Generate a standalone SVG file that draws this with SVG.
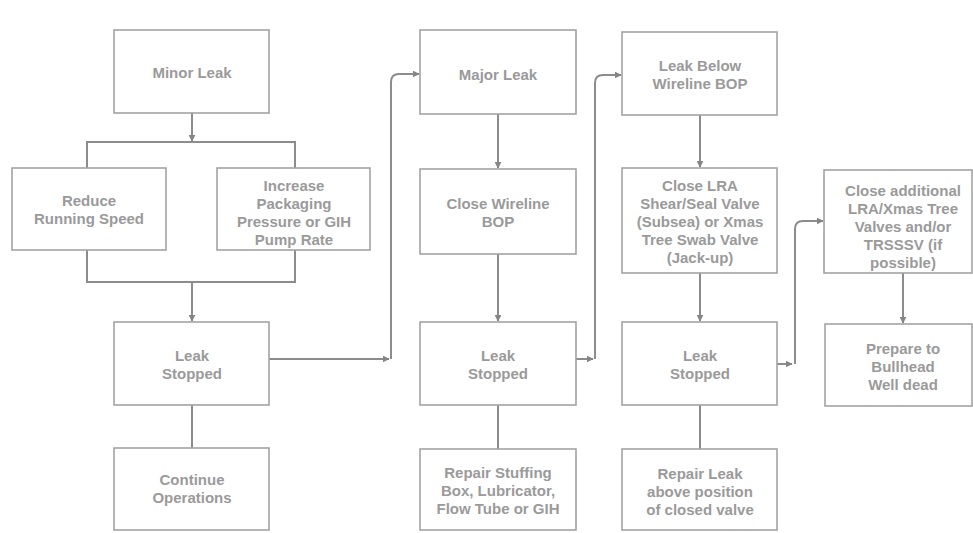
<svg xmlns="http://www.w3.org/2000/svg" width="973" height="533" viewBox="0 0 973 533">
  <defs>
    <marker id="arrow" viewBox="0 0 10 10" refX="9" refY="5" markerWidth="7" markerHeight="7" markerUnits="userSpaceOnUse" orient="auto">
      <path d="M0,0 L10,5 L0,10 z" fill="#858585"/>
    </marker>
    <style>
      .box { fill: #ffffff; stroke: #a3a3a3; stroke-width: 1.6; }
      .lbl { font-family: "Liberation Sans", Arial, sans-serif; font-size: 15px; font-weight: bold; fill: #9a9a9a; text-anchor: middle; dominant-baseline: central; }
      .wire { fill: none; stroke: #8c8c8c; stroke-width: 2; }
      .arr { marker-end: url(#arrow); }
    </style>
  </defs>
  <rect width="973" height="533" fill="#ffffff"/>

  <!-- connectors -->
  <g id="connectors">
    <!-- minor leak branch -->
    <path class="wire arr" d="M192,113 V141"/>
    <path class="wire" d="M87,168 V142 H295 V168"/>
    <path class="wire" d="M87,250 V282 H295 V250"/>
    <path class="wire arr" d="M192,282 V321"/>
    <path class="wire" d="M192,405 V448"/>
    <!-- escalation to major leak -->
    <path class="wire arr" d="M269,359 H389"/>
    <path class="wire arr" d="M391,359 V82 Q391,74 399,74 H419"/>
    <!-- major leak column -->
    <path class="wire arr" d="M498,114 V168"/>
    <path class="wire arr" d="M498,254 V321"/>
    <path class="wire" d="M498,405 V449"/>
    <!-- escalation to leak below BOP -->
    <path class="wire arr" d="M576,359 H593"/>
    <path class="wire arr" d="M595,359 V83 Q595,75 603,75 H621"/>
    <!-- leak below BOP column -->
    <path class="wire arr" d="M700,115 V167"/>
    <path class="wire arr" d="M700,273 V321"/>
    <path class="wire" d="M700,405 V449"/>
    <!-- escalation to additional valves -->
    <path class="wire arr" d="M777,364 H792"/>
    <path class="wire arr" d="M795,364 V229 Q795,221 803,221 H823"/>
    <path class="wire arr" d="M903,273 V323"/>
  </g>

  <g id="minor-leak">
    <rect class="box" x="114" y="30" width="155" height="83"/>
    <text class="lbl" x="192" y="72">Minor Leak</text>
  </g>
  <g id="reduce-speed">
    <rect class="box" x="12" y="168" width="154" height="82"/>
    <text class="lbl" x="89" y="200">Reduce</text>
    <text class="lbl" x="89" y="218">Running Speed</text>
  </g>
  <g id="increase-pressure">
    <rect class="box" x="217" y="168" width="153" height="82"/>
    <text class="lbl" x="294" y="185">Increase</text>
    <text class="lbl" x="294" y="203">Packaging</text>
    <text class="lbl" x="294" y="221">Pressure or GIH</text>
    <text class="lbl" x="294" y="239">Pump Rate</text>
  </g>
  <g id="leak-stopped-1">
    <rect class="box" x="114" y="322" width="155" height="83"/>
    <text class="lbl" x="192" y="355">Leak</text>
    <text class="lbl" x="192" y="373">Stopped</text>
  </g>
  <g id="continue-ops">
    <rect class="box" x="114" y="448" width="155" height="82"/>
    <text class="lbl" x="192" y="479">Continue</text>
    <text class="lbl" x="192" y="497">Operations</text>
  </g>

  <g id="major-leak">
    <rect class="box" x="420" y="30" width="156" height="84"/>
    <text class="lbl" x="498" y="74">Major Leak</text>
  </g>
  <g id="close-wireline-bop">
    <rect class="box" x="420" y="169" width="156" height="85"/>
    <text class="lbl" x="498" y="203">Close Wireline</text>
    <text class="lbl" x="498" y="221">BOP</text>
  </g>
  <g id="leak-stopped-2">
    <rect class="box" x="420" y="322" width="156" height="83"/>
    <text class="lbl" x="498" y="355">Leak</text>
    <text class="lbl" x="498" y="373">Stopped</text>
  </g>
  <g id="repair-stuffing-box">
    <rect class="box" x="420" y="449" width="156" height="81"/>
    <text class="lbl" x="498" y="472">Repair Stuffing</text>
    <text class="lbl" x="498" y="490">Box, Lubricator,</text>
    <text class="lbl" x="498" y="508">Flow Tube or GIH</text>
  </g>

  <g id="leak-below-bop">
    <rect class="box" x="622" y="32" width="155" height="83"/>
    <text class="lbl" x="700" y="65">Leak Below</text>
    <text class="lbl" x="700" y="83">Wireline BOP</text>
  </g>
  <g id="close-lra">
    <rect class="box" x="622" y="168" width="155" height="105"/>
    <text class="lbl" x="700" y="185">Close LRA</text>
    <text class="lbl" x="700" y="203">Shear/Seal Valve</text>
    <text class="lbl" x="700" y="221">(Subsea) or Xmas</text>
    <text class="lbl" x="700" y="239">Tree Swab Valve</text>
    <text class="lbl" x="700" y="257">(Jack-up)</text>
  </g>
  <g id="leak-stopped-3">
    <rect class="box" x="622" y="322" width="155" height="83"/>
    <text class="lbl" x="700" y="355">Leak</text>
    <text class="lbl" x="700" y="373">Stopped</text>
  </g>
  <g id="repair-leak">
    <rect class="box" x="622" y="449" width="155" height="81"/>
    <text class="lbl" x="700" y="473">Repair Leak</text>
    <text class="lbl" x="700" y="491">above position</text>
    <text class="lbl" x="700" y="509">of closed valve</text>
  </g>

  <g id="close-additional">
    <rect class="box" x="824" y="170" width="148" height="103"/>
    <text class="lbl" x="903" y="190">Close additional</text>
    <text class="lbl" x="903" y="208">LRA/Xmas Tree</text>
    <text class="lbl" x="903" y="226">Valves and/or</text>
    <text class="lbl" x="903" y="244">TRSSSV (if</text>
    <text class="lbl" x="903" y="262">possible)</text>
  </g>
  <g id="prepare-bullhead">
    <rect class="box" x="825" y="324" width="147" height="82"/>
    <text class="lbl" x="903" y="348">Prepare to</text>
    <text class="lbl" x="903" y="366">Bullhead</text>
    <text class="lbl" x="903" y="384">Well dead</text>
  </g>
</svg>
